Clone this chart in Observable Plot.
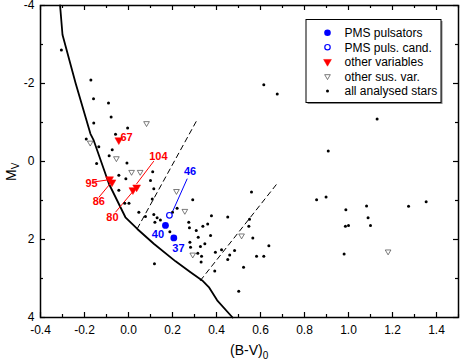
<!DOCTYPE html>
<html><head><meta charset="utf-8">
<script src="https://cdn.jsdelivr.net/npm/d3@7"></script>
<script src="https://cdn.jsdelivr.net/npm/@observablehq/plot@0.6"></script>
<style>body{margin:0;background:#fff} svg{display:block}</style>
</head><body><div id="chart"></div>
<script>
// ---- data ----
const allBV = [-0.305,-0.171,-0.159,-0.091,-0.079,-0.158,-0.004,-0.059,-0.192,-0.135,-0.074,-0.088,-0.145,-0.007,0.11,-0.044,-0.012,0.10,-0.044,0.115,-0.017,0.002,0.108,0.047,0.077,0.115,0.13,0.20,0.221,0.292,0.12,0.145,0.188,0.118,0.377,0.451,0.55,0.559,0.274,0.277,0.308,0.338,0.36,0.317,0.373,0.279,0.347,0.327,0.282,0.315,0.332,0.33,0.395,0.423,0.46,0.482,0.451,0.392,0.523,0.501,0.547,0.565,0.582,0.615,0.638,0.615,0.676,1.13,0.908,0.855,0.898,0.988,1.082,1.089,0.986,1.0,1.1,1.273,1.353,0.98];
const allMV = [-2.86,-2.09,-1.61,-1.50,-1.14,-0.99,-0.86,-0.70,-0.58,-0.38,-0.30,-0.15,0.05,0.04,0.26,0.35,0.44,0.49,0.74,0.70,1.07,1.07,0.96,1.30,1.41,1.36,1.44,1.30,1.20,0.98,1.56,1.50,1.80,2.62,1.39,1.42,1.48,0.78,1.56,1.70,1.77,1.66,1.60,1.94,1.90,2.07,2.11,2.18,2.20,2.35,2.43,2.58,2.33,2.26,2.40,2.28,2.51,2.81,2.71,3.33,1.66,1.96,2.43,2.43,2.16,-1.97,-1.73,-1.09,-0.27,0.98,0.91,1.24,1.14,1.44,1.66,1.64,1.64,1.15,1.03,2.37];

const susBV = [0.082,-0.174,-0.055,0.014,0.053,0.218,0.256,0.292,0.514,1.18];
const susMV = [-0.98,-0.48,-0.08,0.27,0.27,0.76,1.27,2.39,1.90,2.31];

const varID = ["67","95","86","104","80"];
const varBV = [-0.044,-0.086,-0.075,0.037,0.020];
const varMV = [-0.55,0.45,0.53,0.66,0.73];

const pmsID = ["40","37"];
const pmsBV = [0.168,0.206];
const pmsMV = [1.64,1.96];

const candID = ["46"];
const candBV = [0.186];
const candMV = [1.38];

// reference lines
const zamsBV = [-0.311,-0.30,-0.24,-0.173,-0.158,-0.089,-0.014,0.04,0.115,0.214,0.282,0.335,0.365,0.403,0.473];
const zamsMV = [-4.0,-3.25,-2.0,-0.71,-0.54,0.57,1.43,1.73,2.11,2.56,2.84,3.05,3.22,3.56,4.0];
const edge1BV = [0.04,0.312];
const edge1MV = [1.72,-1.07];
const edge2BV = [0.327,0.675];
const edge2MV = [3.05,0.57];

// star labels (label anchor in data units) and leader lines
const labelText  = ["67","104","95","86","80","46","40","37"];
const labelBV    = [-0.009,0.136,-0.168,-0.135,-0.073,0.28,0.134,0.227];
const labelMV    = [-0.62,-0.13,0.56,1.03,1.44,0.26,1.87,2.23];
const labelAnchor= ["start","middle","end","end","end","middle","middle","middle"];
const labelColor = ["red","red","red","red","red","blue","blue","blue"];
const leadX1 = [0.115,-0.165,-0.135,-0.059,0.267];
const leadY1 = [-0.01,0.53,0.92,1.30,0.44];
const leadX2 = [0.036,-0.091,-0.082,0.017,0.199];
const leadY2 = [0.58,0.47,0.56,0.79,1.30];
const leadColor = ["red","red","red","red","blue"];

const xMajor = [-0.4,-0.2,0,0.2,0.4,0.6,0.8,1.0,1.2,1.4];
const xMinor = [-0.3,-0.1,0.1,0.3,0.5,0.7,0.9,1.1,1.3,1.5];
const yMajor = [-4,-2,0,2,4];
const yMinor = [-3,-1,1,3];

const legendLabels = ["PMS pulsators","PMS puls. cand.","other variables","other sus. var.","all analysed stars"];

// ---- build ----
const W = 461, H = 364, mL = 40, mR = 3, mT = 5, mB = 47;
const pw = W - mL - mR, ph = H - mT - mB;
const FONT = "'Liberation Sans', Arial, Helvetica, sans-serif";

const triDown = {draw(ctx, size){
  const s = Math.sqrt(size*4/Math.sqrt(3)), h = s*Math.sqrt(3)/2;
  ctx.moveTo(0, 2*h/3); ctx.lineTo(-s/2, -h/3); ctx.lineTo(s/2, -h/3); ctx.closePath();
}};

const pts = (xs, ys, extra) => xs.map((x,i)=>({x, y: ys[i], ...(extra ? extra(i) : {})}));
const all = pts(allBV, allMV);
const sus = pts(susBV, susMV);
const vars = pts(varBV, varMV, i=>({id: varID[i]}));
const pms = pts(pmsBV, pmsMV);
const cand = pts(candBV, candMV);
const zams = pts(zamsBV, zamsMV);
const e1 = pts(edge1BV, edge1MV);
const e2 = pts(edge2BV, edge2MV);
const labels = labelText.map((t,i)=>({t, x: labelBV[i], y: labelMV[i], a: labelAnchor[i], c: labelColor[i]}));
const leaders = leadX1.map((x1,i)=>({x1, y1: leadY1[i], x2: leadX2[i], y2: leadY2[i], c: leadColor[i]}));

const plot = Plot.plot({
  width: W, height: H, marginLeft: mL, marginRight: mR, marginTop: mT, marginBottom: mB,
  x: {domain: [-0.4, 1.5]},
  y: {domain: [-4, 4], reverse: true},
  style: {fontFamily: FONT, fontSize: "12px", background: "white", overflow: "visible"},
  marks: [
    Plot.line(zams, {x: "x", y: "y", stroke: "black", strokeWidth: 1.8}),
    Plot.line(e1, {x: "x", y: "y", stroke: "black", strokeWidth: 1, strokeDasharray: "5,4"}),
    Plot.line(e2, {x: "x", y: "y", stroke: "black", strokeWidth: 1, strokeDasharray: "5,4"}),
    Plot.link(leaders, {x1: "x1", y1: "y1", x2: "x2", y2: "y2", stroke: "c", strokeWidth: 1}),
    Plot.dot(all, {x: "x", y: "y", r: 1.5, fill: "black", stroke: null}),
    Plot.dot(sus, {x: "x", y: "y", r: 2.1, symbol: triDown, fill: "white", stroke: "#444", strokeWidth: 0.7}),
    Plot.dot(vars, {x: "x", y: "y", r: 2.9, symbol: triDown, fill: "red", stroke: "red", strokeWidth: 0.5}),
    Plot.dot(pms, {x: "x", y: "y", r: 3.4, fill: "blue", stroke: null}),
    Plot.dot(cand, {x: "x", y: "y", r: 2.8, fill: "white", stroke: "blue", strokeWidth: 1.2}),
    Plot.text(labels, {x: "x", y: "y", text: "t", fill: "c", textAnchor: "a", fontWeight: "bold", fontSize: 11}),
    Plot.frame({stroke: "black", strokeWidth: 1.5}),
    Plot.tickX(xMajor, {x: d=>d, insetTop: ph - 5, stroke: "black", strokeWidth: 1.2}),
    Plot.tickX(xMinor, {x: d=>d, insetTop: ph - 3, stroke: "black", strokeWidth: 1.2}),
    Plot.tickX(xMajor, {x: d=>d, insetBottom: ph - 5, stroke: "black", strokeWidth: 1.2}),
    Plot.tickX(xMinor, {x: d=>d, insetBottom: ph - 3, stroke: "black", strokeWidth: 1.2}),
    Plot.tickY(yMajor, {y: d=>d, insetRight: pw - 5, stroke: "black", strokeWidth: 1.2}),
    Plot.tickY(yMinor, {y: d=>d, insetRight: pw - 3, stroke: "black", strokeWidth: 1.2}),
    Plot.tickY(yMajor, {y: d=>d, insetLeft: pw - 5, stroke: "black", strokeWidth: 1.2}),
    Plot.tickY(yMinor, {y: d=>d, insetLeft: pw - 3, stroke: "black", strokeWidth: 1.2}),
    Plot.axisX(xMajor, {anchor: "bottom", tickSize: 0, tickPadding: 8, tickFormat: d => d.toFixed(1), label: null, fontSize: 12, fill: "black"}),
    Plot.axisY(yMajor, {anchor: "left", tickSize: 0, tickPadding: 6, tickFormat: d => String(d), label: null, fontSize: 12, fill: "black"})
  ]
});
document.getElementById("chart").appendChild(plot);

// ---- axis titles and legend (as SVG text) ----
const svg = d3.select(plot);
const yT = svg.append("text").attr("transform", "translate(16,181) rotate(-90)")
  .attr("text-anchor", "start")
  .attr("font-family", FONT).attr("font-size", 14).attr("fill", "black");
yT.append("tspan").text("M");
yT.append("tspan").attr("font-size", 10).attr("dy", 3).text("V");

const xT = svg.append("text").attr("x", 230).attr("y", 355).attr("text-anchor", "start")
  .attr("font-family", FONT).attr("font-size", 14).attr("fill", "black");
xT.append("tspan").text("(B-V)");
xT.append("tspan").attr("font-size", 10).attr("dy", 4).text("0");

const lg = svg.append("g");
const bx = 306, by = 19.5, bw = 135, bh = 83;
lg.append("rect").attr("x", bx + 1.5).attr("y", by + 1.5).attr("width", bw).attr("height", bh).attr("fill", "#888");
lg.append("rect").attr("x", bx).attr("y", by).attr("width", bw).attr("height", bh).attr("fill", "white").attr("stroke", "black").attr("stroke-width", 1);
const symX = 327.5, txtX = 344.5, rowY = [32.7, 47.2, 61.7, 76.3, 91];
const areaOf = r => r*r*Math.PI;
lg.append("circle").attr("cx", symX).attr("cy", rowY[0]).attr("r", 3.3).attr("fill", "blue");
lg.append("circle").attr("cx", symX).attr("cy", rowY[1]).attr("r", 2.7).attr("fill", "white").attr("stroke", "blue").attr("stroke-width", 1.2);
lg.append("path").attr("transform", `translate(${symX},${rowY[2]})`).attr("d", d3.symbol(triDown, areaOf(2.9))()).attr("fill", "red").attr("stroke", "red").attr("stroke-width", 0.5);
lg.append("path").attr("transform", `translate(${symX},${rowY[3]})`).attr("d", d3.symbol(triDown, areaOf(2.1))()).attr("fill", "white").attr("stroke", "#444").attr("stroke-width", 0.7);
lg.append("circle").attr("cx", symX).attr("cy", rowY[4]).attr("r", 1.5).attr("fill", "black");
legendLabels.forEach((t, i) => {
  lg.append("text").attr("x", txtX).attr("y", rowY[i]).attr("dy", "0.36em").attr("text-anchor", "start")
    .attr("font-family", FONT).attr("font-size", 12).attr("fill", "black").text(t);
});
</script></body></html>
